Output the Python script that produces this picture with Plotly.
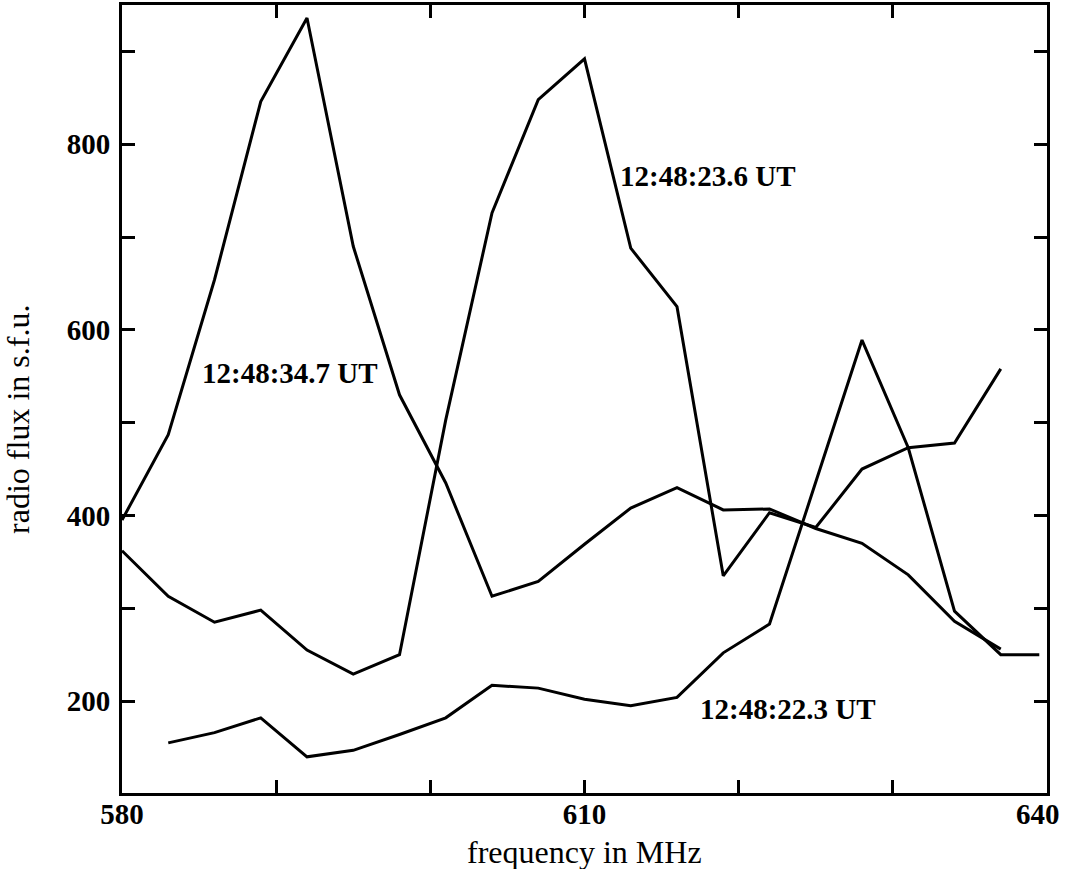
import plotly.graph_objects as go

# ---- data ----
freq = [580, 583, 586, 589, 592, 595, 598, 601, 604, 607,
        610, 613, 616, 619, 622, 625, 628, 631, 634, 637]
flux_34_7 = [395, 487, 654, 846, 936, 690, 530, 435, 313, 329,
             369, 408, 430, 406, 407, 386, 370, 336, 286, 256]
flux_23_6 = [362, 313, 285, 298, 255, 229, 250, 503, 726, 848,
             892, 688, 625, 335, 403, 387, 450, 473, 478, 558]
freq_22_3 = [583, 586, 589, 592, 595, 598, 601, 604, 607, 610,
             613, 616, 619, 622, 625, 628, 631, 634, 637, 639.5]
flux_22_3 = [155, 166, 182, 140, 147, 164, 182, 217, 214, 202,
             195, 204, 252, 283, 436, 589, 473, 297, 250, 250]

series_names = ["12:48:34.7 UT", "12:48:23.6 UT", "12:48:22.3 UT"]
x_tickvals = [580, 590, 600, 610, 620, 630, 640]
x_ticktext = ["580", "", "", "610", "", "", ""]
last_x_label = "640"
y_tickvals = [200, 300, 400, 500, 600, 700, 800, 900]
y_ticktext = ["200", "", "400", "", "600", "", "800", ""]
x_title = "frequency in MHz"
y_title = "radio flux in s.f.u."

FONT = "Liberation Serif"
line_style = dict(color="black", width=3)

fig = go.Figure()
fig.add_trace(go.Scatter(x=freq, y=flux_34_7, mode="lines", line=line_style,
                         name=series_names[0], showlegend=False))
fig.add_trace(go.Scatter(x=freq, y=flux_23_6, mode="lines", line=line_style,
                         name=series_names[1], showlegend=False))
fig.add_trace(go.Scatter(x=freq_22_3, y=flux_22_3, mode="lines", line=line_style,
                         name=series_names[2], showlegend=False))

label_font = dict(family=FONT, size=29, color="black", weight="bold")
fig.add_annotation(x=590.9, y=554, text=series_names[0], showarrow=False,
                   font=label_font, xanchor="center", yanchor="middle")
fig.add_annotation(x=618.0, y=766, text=series_names[1], showarrow=False,
                   font=label_font, xanchor="center", yanchor="middle")
fig.add_annotation(x=623.2, y=191, text=series_names[2], showarrow=False,
                   font=label_font, xanchor="center", yanchor="middle")

tick_font = dict(family=FONT, size=29, color="black", weight="bold")
# right-most x tick label, drawn slightly inside the page edge as in the reference
fig.add_annotation(xref="x", yref="paper", x=639.4, y=-0.027,
                   text=last_x_label, showarrow=False, font=tick_font,
                   xanchor="center", yanchor="middle")

title_font = dict(family=FONT, size=32, color="black")
fig.add_annotation(xref="paper", yref="paper", x=0.5, y=-0.075,
                   text=x_title, showarrow=False, font=title_font,
                   xanchor="center", yanchor="middle")
fig.add_annotation(xref="paper", yref="paper", x=-0.112, y=0.474,
                   text=y_title, showarrow=False, font=title_font,
                   textangle=-90, xanchor="center", yanchor="middle")

axis_common = dict(
    showgrid=False, zeroline=False, showline=True, linecolor="black",
    linewidth=3, mirror="ticks", ticks="inside", ticklen=13, tickwidth=3,
    tickcolor="black", automargin=False, tickfont=tick_font,
)
fig.update_xaxes(range=[580, 640], tickmode="array", tickvals=x_tickvals,
                 ticktext=x_ticktext, ticklabelstandoff=-7, **axis_common)
fig.update_yaxes(range=[101, 950], tickmode="array", tickvals=y_tickvals,
                 ticktext=y_ticktext, ticklabelstandoff=3, **axis_common)

fig.update_layout(
    width=1067, height=869,
    margin=dict(l=122, r=20, t=5, b=76, autoexpand=False),
    paper_bgcolor="white", plot_bgcolor="white",
    showlegend=False,
)

fig.write_html("out.html")
